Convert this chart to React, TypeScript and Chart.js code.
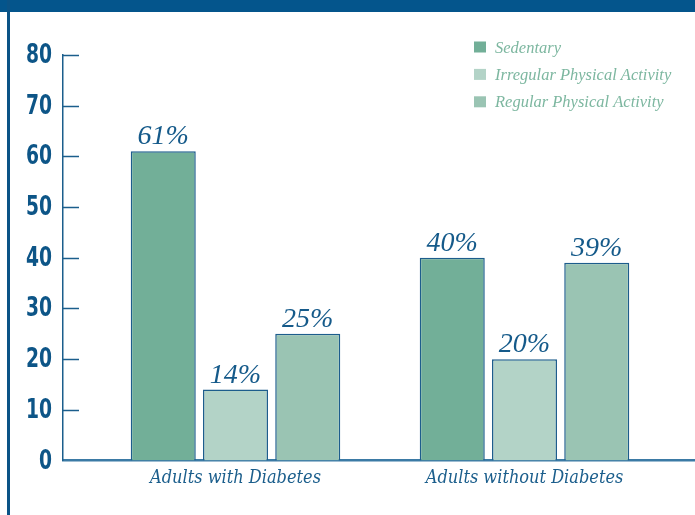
import React, { useEffect, useRef } from "react";
import { Chart, registerables } from "chart.js";

Chart.register(...registerables);

const categories = ["Adults with Diabetes", "Adults without Diabetes"];
const seriesNames = ["Sedentary", "Irregular Physical Activity", "Regular Physical Activity"];
const sedentary = [61, 40];
const irregular = [14, 20];
const regular = [25, 39];
const seriesValues = [sedentary, irregular, regular];
const seriesColors = ["#72af98", "#b3d3c7", "#9ac4b3"];
const yMin = 0;
const yMax = 80;
const yStep = 10;

const DARK = "#0d5587";

const framePlugin = {
  id: "frame",
  beforeDraw(chart: any) {
    const ctx = chart.ctx;
    ctx.save();
    ctx.fillStyle = "#04558c";
    ctx.fillRect(0, 0, chart.width, 12);
    ctx.fillStyle = "#0b5386";
    ctx.fillRect(7, 0, 3, chart.height);
    ctx.restore();
  },
};

const yAxisPlugin = {
  id: "yAxisDecor",
  afterDraw(chart: any) {
    const ctx = chart.ctx;
    const y = chart.scales.y;
    const left = chart.chartArea.left;
    ctx.save();
    ctx.strokeStyle = "#1b5e8c";
    ctx.lineWidth = 1.5;
    y.ticks.forEach((t: any, i: number) => {
      const py = Math.round(y.getPixelForTick(i)) + 0.5;
      if (t.value !== yMin) {
        ctx.beginPath();
        ctx.moveTo(left, py);
        ctx.lineTo(left + 16, py);
        ctx.stroke();
      }
      ctx.save();
      ctx.translate(left - 11, py + 1);
      ctx.scale(0.72, 1);
      ctx.fillStyle = DARK;
      ctx.font = 'bold 26px "DejaVu Sans"';
      ctx.textAlign = "right";
      ctx.textBaseline = "middle";
      ctx.fillText(String(t.value), 0, 0);
      ctx.restore();
    });
    ctx.restore();
  },
};

const valueLabelPlugin = {
  id: "valueLabels",
  afterDatasetsDraw(chart: any) {
    const ctx = chart.ctx;
    ctx.save();
    ctx.fillStyle = "#155a8a";
    ctx.font = 'italic 28px "Liberation Serif"';
    ctx.textAlign = "center";
    ctx.textBaseline = "alphabetic";
    chart.data.datasets.forEach((ds: any, di: number) => {
      const meta = chart.getDatasetMeta(di);
      meta.data.forEach((el: any, i: number) => {
        const v = ds.data[i].y;
        ctx.fillText(v + "%", el.x, el.y - 7);
      });
    });
    ctx.restore();
  },
};

const legendPlugin = {
  id: "customLegend",
  afterDraw(chart: any) {
    const ctx = chart.ctx;
    ctx.save();
    ctx.font = 'italic 16.5px "Liberation Serif"';
    ctx.textAlign = "left";
    ctx.textBaseline = "alphabetic";
    chart.data.datasets.forEach((ds: any, i: number) => {
      const y0 = 41.5 + i * 27.4;
      ctx.fillStyle = ds.backgroundColor;
      ctx.fillRect(474, y0, 12, 11);
      ctx.fillStyle = "#7db7a0";
      ctx.fillText(ds.label, 495, y0 + 11);
    });
    ctx.restore();
  },
};

export default function App() {
  const ref = useRef<HTMLCanvasElement | null>(null);

  useEffect(() => {
    if (!ref.current) return;
    const pxPerUnit = 289;
    const xMin = -(235.5 - 63) / pxPerUnit;
    const xMax = xMin + (695 - 63) / pxPerUnit;
    const chart = new Chart(ref.current, {
      type: "bar",
      data: {
        datasets: seriesNames.map((name, si) => ({
          label: name,
          data: seriesValues[si].map((v, ci) => ({ x: ci, y: v })),
          backgroundColor: seriesColors[si],
          borderColor: "#1d5d8c",
          borderWidth: 1.5,
          categoryPercentage: 0.75,
          barPercentage: 0.9,
        })),
      },
      options: {
        responsive: false,
        animation: false,
        layout: { padding: { top: 55, left: 0, right: 0, bottom: 0 } },
        plugins: {
          legend: { display: false },
          tooltip: { enabled: false },
        },
        scales: {
          x: {
            type: "linear",
            offset: false,
            min: xMin,
            max: xMax,
            afterBuildTicks: (scale: any) => {
              scale.ticks = categories.map((_, i) => ({ value: i }));
            },
            afterFit: (scale: any) => {
              scale.height = 515 - 460.5;
            },
            grid: { display: false, drawTicks: false, offset: false },
            border: { display: true, color: "#3b7aa5", width: 2.5 },
            ticks: {
              autoSkip: false,
              maxRotation: 0,
              padding: 7,
              color: "#1b5e8c",
              font: { family: '"DejaVu Serif Condensed"', style: "italic", size: 18 },
              callback: (v: any) => categories[v] ?? "",
            },
          },
          y: {
            min: yMin,
            max: yMax,
            afterFit: (scale: any) => {
              scale.width = 63;
            },
            grid: { display: false, drawTicks: false },
            border: { display: true, color: "#1b5e8c", width: 1.5 },
            ticks: {
              stepSize: yStep,
              padding: 11,
              color: "rgba(0,0,0,0)",
              font: { family: '"DejaVu Sans Condensed"', weight: "bold", size: 24 },
            },
          },
        },
      },
      plugins: [framePlugin, yAxisPlugin, valueLabelPlugin, legendPlugin],
    } as any);
    return () => chart.destroy();
  }, []);

  return (
    <div style={{ position: "fixed", left: 0, top: 0, width: 695, height: 515, background: "#fff" }}>
      <canvas ref={ref} width={695} height={515} style={{ width: 695, height: 515, display: "block" }} />
    </div>
  );
}
